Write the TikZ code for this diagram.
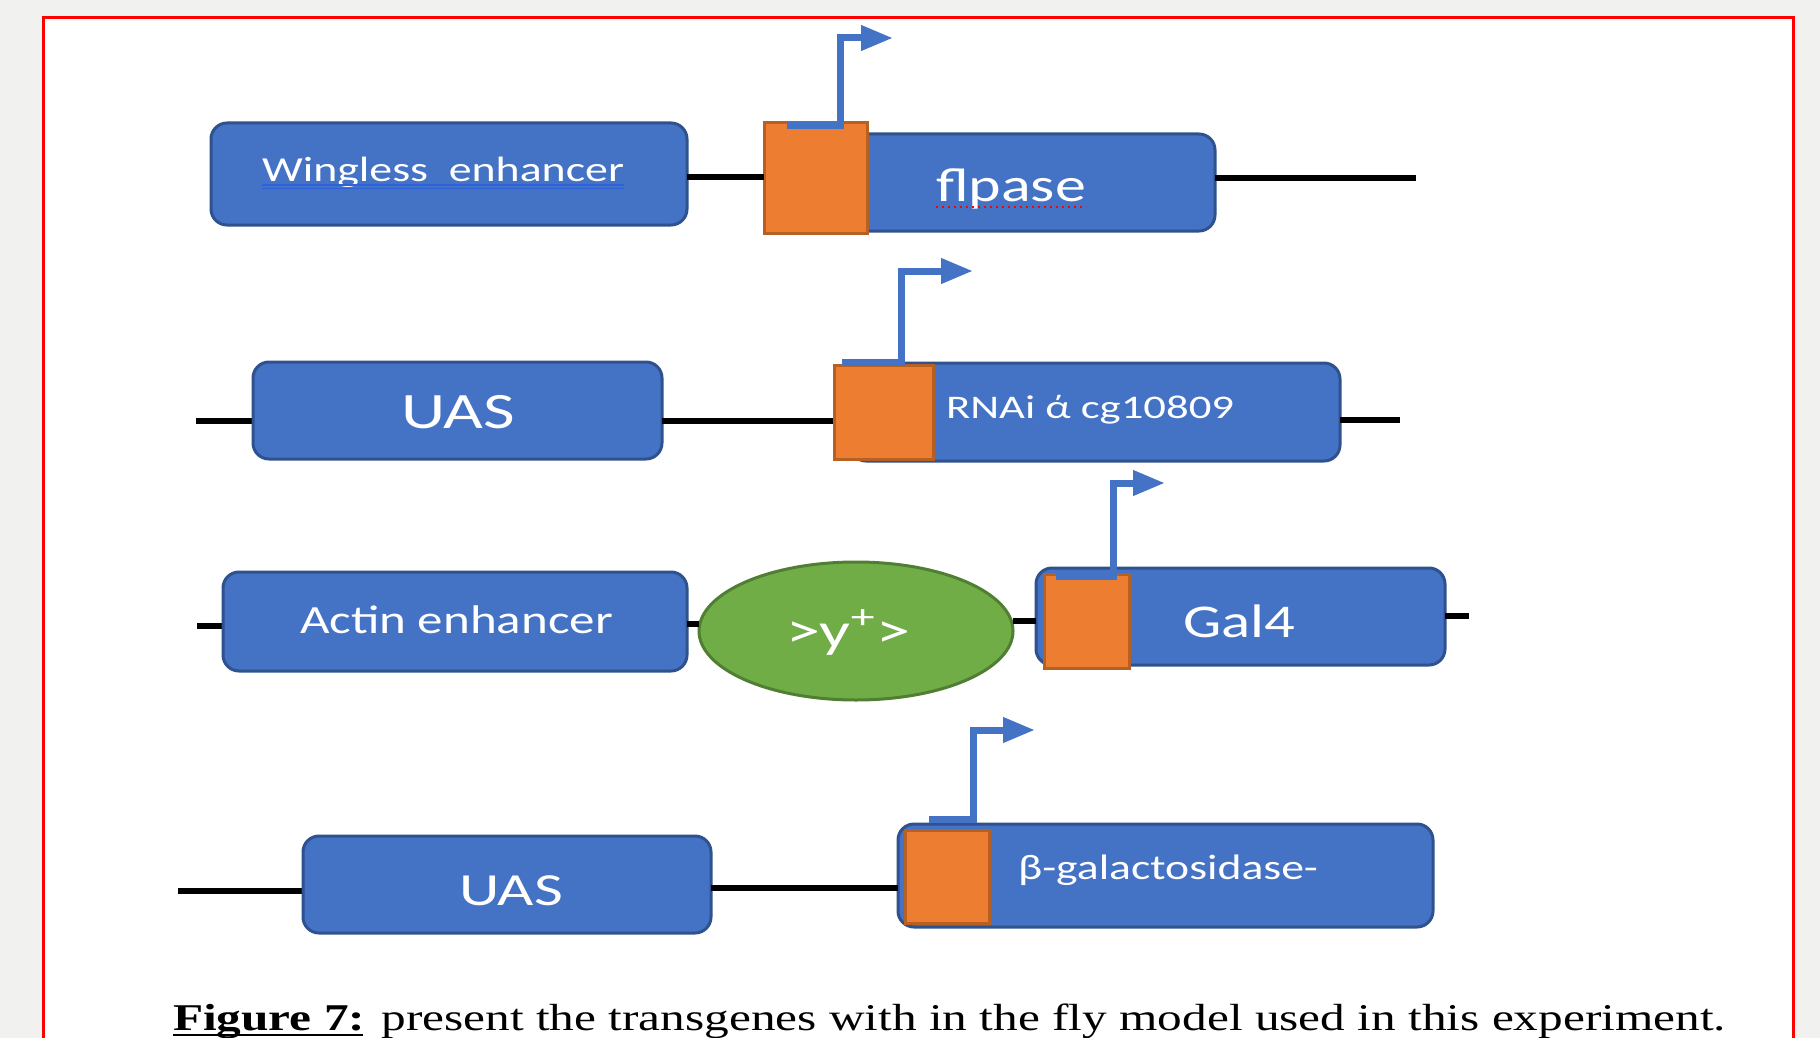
\documentclass[tikz,border=0pt]{standalone}
\usepackage{fontspec}
\setmainfont{Carlito}
\newfontfamily\capfont{Liberation Serif}
\usetikzlibrary{arrows.meta,shapes.geometric,fit}

\definecolor{pageGray}{HTML}{F1F2EF}
\definecolor{blueFill}{HTML}{4472C4}
\definecolor{blueEdge}{HTML}{2F528F}
\definecolor{orangeFill}{HTML}{ED7D31}
\definecolor{orangeEdge}{HTML}{B85F22}
\definecolor{greenFill}{HTML}{70AD47}
\definecolor{greenEdge}{HTML}{507E32}
\definecolor{grammarBlue}{HTML}{2E62D9}

% text stretched to a given width, keeping the natural height
\newcommand\widetext[3]{\resizebox{#1}{\height}{\fontsize{#2}{#2}\selectfont #3}}

\begin{document}
\begin{tikzpicture}[x=0.5pt,y=-0.5pt,
  gene/.style={draw=blueEdge, fill=blueFill, line width=1.5pt,
    rounded corners=8pt, inner sep=0pt, outer sep=0pt},
  promo/.style={draw=orangeEdge, fill=orangeFill, line width=1.5pt,
    inner sep=0pt, outer sep=0pt},
  marker/.style={ellipse, draw=greenEdge, fill=greenFill, line width=1.5pt,
    inner sep=0pt, outer sep=0pt},
  dna/.style={draw=black, line width=3pt},
  tss/.style={draw=blueFill, line width=3.5pt, line join=miter,
    -{Triangle[length=16pt,width=12pt]}},
  lbl/.style={text=white, inner sep=0pt, outer sep=0pt, anchor=base west}]

\useasboundingbox (0,0) rectangle (1820,1038);
\fill[pageGray] (0,0) rectangle (1820,1038);
\fill[white] (43,17.5) rectangle (1793,1060);
\draw[red, line width=1.5pt] (43,1060) -- (43,17.5) -- (1793,17.5) -- (1793,1060);

% ---------- construct 1: wingless enhancer > flpase ----------
\node[gene, fit={(211,123) (687,225)}] (wing) {};
\node[gene, fit={(850,134) (1215,231)}] (flp) {};
\node[promo, fit={(764,123) (867,233)}] (o1) {};
\coordinate (r1end) at (1416,178);
\draw[dna] (wing.east |- 0,177) -- (o1.west |- 0,177);
\draw[dna] (flp.east |- 0,178) -- (r1end);
\coordinate (p1foot) at (787,126);
\coordinate (p1top) at (840,38);
\coordinate (p1tip) at (893,38);
\draw[tss] (p1foot) -| (p1top) -- (p1tip);
\node[lbl] (wingtxt) at (262,181) {\widetext{181pt}{17.6pt}{Wingless\ \ enhancer}};
\draw[grammarBlue, line width=0.6pt] (wingtxt.west |- 0,185) -- (wingtxt.east |- 0,185);
\draw[grammarBlue, line width=0.6pt] (wingtxt.west |- 0,188.5) -- (wingtxt.east |- 0,188.5);
\node[lbl] (flptxt) at (936,201) {\widetext{75pt}{23.8pt}{flpase}};
\draw[red, line width=1pt, dotted] (flptxt.west |- 0,207) -- (flptxt.east |- 0,207);

% ---------- construct 2: UAS > RNAi ----------
\coordinate (r2start) at (196,421);
\coordinate (r2end) at (1400,420);
\draw[dna] (r2start) -- (540,421);
\node[gene, fit={(253,362) (662,459)}] (uas1) {};
\node[gene, fit={(850,363) (1340,461)}] (rnai) {};
\draw[dna] (uas1.east |- 0,421) -- (850,421);
\draw[dna] (rnai.east |- 0,420) -- (r2end);
\node[promo, fit={(834,365) (933,459)}] (o2) {};
\coordinate (p2foot) at (842,362);
\coordinate (p2top) at (901,271);
\coordinate (p2tip) at (973,271);
\draw[tss] (p2foot) -| (p2top) -- (p2tip);
\node[lbl] (uas1txt) at (401,428) {\widetext{57pt}{25.5pt}{UAS}};
\node[lbl] (rnaitxt) at (946,418) {\widetext{144pt}{16.5pt}{RNAi ά cg10809}};

% ---------- construct 3: actin enhancer >y+> Gal4 ----------
\coordinate (r3start) at (197,626);
\coordinate (r3end) at (1469,616);
\draw[dna] (r3start) -- (260,626);
\node[gene, fit={(223,572) (687,671)}] (actin) {};
\node[marker, minimum width=157pt, minimum height=69pt] (yplus) at (856,631) {};
\draw[dna] (actin.east |- 0,624) -- (yplus.west |- 0,624);
\node[gene, fit={(1036,568) (1445,665)}] (gal) {};
\draw[dna] (yplus.east |- 0,621) -- (gal.west |- 0,621);
\draw[dna] (gal.east |- 0,616) -- (r3end);
\node[promo, fit={(1044,574) (1129,668)}] (o3) {};
\coordinate (p3foot) at (1056,576);
\coordinate (p3top) at (1113,483);
\coordinate (p3tip) at (1165,483);
\draw[tss] (p3foot) -| (p3top) -- (p3tip);
\node[lbl] (actintxt) at (300,633) {\widetext{156.5pt}{20pt}{Actin enhancer}};
\node[lbl] (ytxt) at (786,647) {\widetext{62pt}{24.5pt}{>y\textsuperscript{+}>}};
\node[lbl] (galtxt) at (1183,637) {\widetext{56pt}{23.5pt}{Gal4}};

% ---------- construct 4: UAS > beta-galactosidase ----------
\coordinate (r4start) at (178,891);
\draw[dna] (r4start) -- (340,891);
\node[gene, fit={(303,836) (711,933)}] (uas2) {};
\node[gene, fit={(898,824) (1433,927)}] (bgal) {};
\draw[dna] (uas2.east |- 0,888) -- (bgal.west |- 0,888);
\node[promo, fit={(905,830) (989,923)}] (o4) {};
\coordinate (p4foot) at (929,819);
\coordinate (p4top) at (973,730);
\coordinate (p4tip) at (1035,730);
\draw[tss] (p4foot) -| (p4top) -- (p4tip);
\node[lbl] (uas2txt) at (459,905) {\widetext{52pt}{23pt}{UAS}};
\node[lbl] (bgaltxt) at (1018,879) {\widetext{150pt}{17.7pt}{β-galactosidase-}};

% ---------- caption ----------
\node[inner sep=0pt, outer sep=0pt, anchor=base west] (caption) at (173,1030)
  {\widetext{776.5pt}{18.9pt}{\capfont\textbf{Figure 7:} present the transgenes with in the fly model used in this experiment.}};
% underline of the figure label, set through the descender as a word processor does
\coordinate (ulend) at (363,1035);
\draw[black, line width=1.3pt] (caption.west |- 0,1035) -- (ulend);
\end{tikzpicture}
\end{document}
